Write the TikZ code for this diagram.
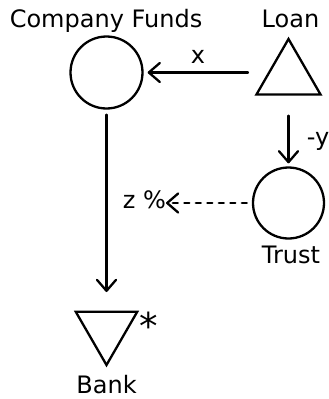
\documentclass[tikz,border=0pt]{standalone}
\usepackage{fontspec}
\setmainfont{DejaVu Sans}
\usetikzlibrary{shapes.geometric,arrows.meta}
\tikzset{
  lbl/.style={inner sep=0pt, outer sep=0pt, font=\fontsize{24}{28}\selectfont},
  circ/.style={draw, circle, line width=2.3pt, inner sep=0pt},
  tri/.style={draw, regular polygon, regular polygon sides=3, line width=2.3pt, inner sep=0pt},
  arr/.style={line width=2.3pt, line cap=round, line join=round, -{Straight Barb[length=11pt,width=19pt,line cap=round,line join=round]}},
  dsh/.style={dash pattern=on 5pt off 6.5pt}
}
\begin{document}
\begin{tikzpicture}[x=1pt,y=1pt]
\useasboundingbox (0,0) rectangle (329,-399);
% shapes
\node[circ, minimum size=72pt] (cf) at (106.5,-72.5) {};
\node[tri, minimum size=74pt] (loan) at (288.5,-76) {};
\node[circ, minimum size=71pt] (trust) at (288.5,-203) {};
\node[tri, minimum size=71pt, shape border rotate=180] (bank) at (106.5,-329.5) {};
% labels
\node[lbl, anchor=base] (cflbl) at (106,-27) {Company Funds};
\node[lbl, anchor=base] (loanlbl) at (290.5,-27) {Loan};
\node[lbl, anchor=base] (xlbl) at (198,-63) {x};
\node[lbl, anchor=base] (ylbl) at (318,-145) {-y};
\node[lbl, anchor=base east] (zlbl) at (166,-208) {z \%};
\node[lbl, anchor=base] (trustlbl) at (291,-263) {Trust};
\node[lbl, anchor=base] (banklbl) at (106.5,-393) {Bank};
\node[inner sep=0pt, font=\fontsize{37}{42}\selectfont] (star) at (149,-326) {*};
% connectors
\draw[arr] ([xshift=-40.5pt]loan.center |- cf.east) -- ([xshift=4pt]cf.east);
\draw[arr] ([yshift=-20pt]loan.center |- loan.south) -- ([yshift=3pt]trust.north);
\draw[arr] ([yshift=-5pt]cf.south) -- ([yshift=37.5pt]bank.center);
\draw[arr, dsh] ([xshift=-5pt]trust.west) -- (trust.west -| zlbl.east);
\end{tikzpicture}
\end{document}
